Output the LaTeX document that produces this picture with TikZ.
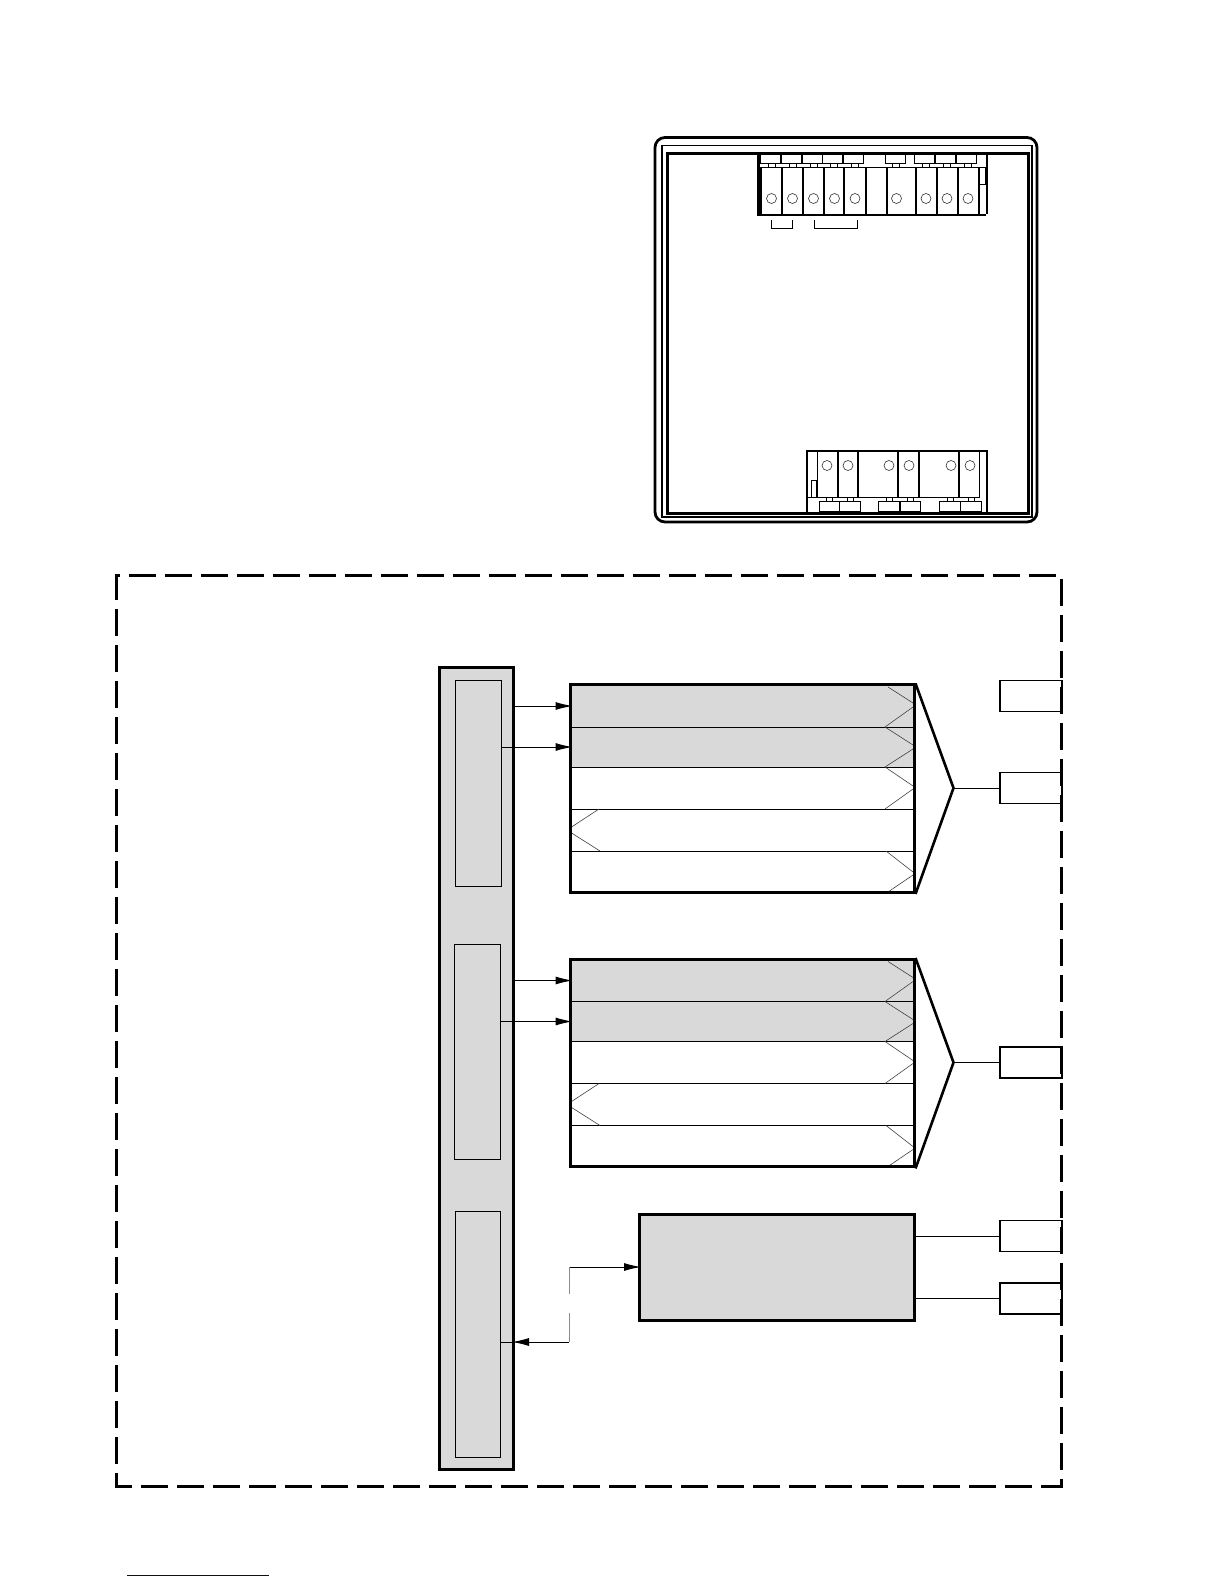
\documentclass[tikz,border=0pt]{standalone}
\usepackage{tikz}
\usetikzlibrary{arrows.meta}
\definecolor{panelgray}{HTML}{D9D9D9}
\tikzset{
  busbar/.style={draw,line width=3pt,fill=panelgray,inner sep=0pt,minimum width=74pt,minimum height=802pt},
  slotbox/.style={draw,line width=1pt,fill=panelgray,inner sep=0pt,minimum width=46pt},
  rowbox/.style={draw,line width=1pt,inner sep=0pt,minimum width=344pt},
  stackbox/.style={draw,line width=3pt,inner sep=0pt,minimum width=344pt,minimum height=207.5pt},
  portbox/.style={draw,line width=1.1pt,inner sep=0pt,minimum width=62pt,minimum height=31pt},
  sigline/.style={line width=1pt,shorten >=-3pt,-{Latex[length=17pt,width=8pt]}},
  chev/.style={line width=.6pt,black!75},
  termbox/.style={draw,line width=1pt,inner sep=0pt,minimum width=20pt,minimum height=9.5pt},
  lowterm/.style={draw,line width=1pt,inner sep=0pt,minimum width=20.5pt,minimum height=10pt}
}
\begin{document}
\begin{tikzpicture}[x=1pt,y=-1pt]
\useasboundingbox (0,0) rectangle (1224,1584);
% panel outline
\draw[line width=2.8pt,rounded corners=10pt] (655,137.5) rectangle (1037,522);
\draw[line width=1.8pt] (662,145.5) rectangle (1032,517);
\draw[line width=3pt] (667,153) rectangle (1028,513);
% upper block
\fill[white] (758,154.6) rectangle (987,215);
\draw[line width=2.4pt] (758.5,153) -- (758.5,215) -- (986,215);
\draw[line width=2.4pt] (987,153) -- (987,214);
\foreach \x in {761,782,803,824,844,866,887,916,937,958,979}
  \draw[line width=1.1pt] (\x,167) -- (\x,215);
\draw[line width=.9pt] (761,167) -- (979,167);
\foreach \x in {772,793,814,834,855,896,926,947,968}
  \draw[line width=.8pt] (\x-3.5,163) -- (\x-3.5,167) (\x+3.5,163) -- (\x+3.5,167);
\foreach \x/\n in {770.5/a,791/b,812/c,832.5/d,853.5/e,895/f,924.5/g,945.5/h,966.5/i}
  \node[termbox] (top\n) at (\x,158.5) {};
\foreach \x in {771.5,792.5,813.5,834.5,855,896.5,926,947,968}
  \draw[line width=.6pt,black!80] (\x,198.5) circle (5pt);
\draw[line width=.8pt] (979.5,167) rectangle (985,184.5);
\draw[line width=.9pt] (771.5,219.5) -- (771.5,228) -- (792.5,228) -- (792.5,219.5);
\draw[line width=.9pt] (814.5,219.5) -- (814.5,228) -- (857.5,228) -- (857.5,219.5);
% lower block
\fill[white] (806.5,451) rectangle (987.5,511.4);
\draw[line width=2.4pt] (807,512) -- (807,451) -- (987,451) -- (987,512);
\foreach \x in {817.5,838,858,898,919,959,979.5}
  \draw[line width=1.3pt] (\x,451) -- (\x,497.5);
\draw[line width=.8pt] (807,497.5) -- (979.5,497.5);
\draw[line width=.8pt] (811.5,480.5) rectangle (816.5,497.5);
\foreach \x in {827,848,889,909,951,970}
  \draw[line width=.6pt,black!80] (\x,465.5) circle (5pt);
\foreach \x in {829.3,850,889.3,910,950,971}
  \draw[line width=.8pt] (\x-3,497.5) -- (\x-3,501.5) (\x+3,497.5) -- (\x+3,501.5);
\foreach \x/\n in {829.5/a,850/b,889/c,910.5/d,950/e,971/f}
  \node[lowterm] (low\n) at (\x,506.5) {};
% dashed frame
\draw[line width=3pt,dash pattern=on 27pt off 9pt] (130,1486) -- (116.5,1486) -- (116.5,575.5) -- (1061,575.5) -- (1061,1486) -- (130,1486);
% bus bar and its slots
\node[busbar] (bus) at (476.5,1068) {};
\node[slotbox,minimum height=206pt] (slota) at (478,783) {};
\node[slotbox,minimum height=215pt] (slotb) at (477.5,1052) {};
\node[slotbox,minimum width=45pt,minimum height=246pt] (slotc) at (478,1334) {};
% two stacks of rows
\foreach \s/\dy in {a/0,b/274.5}{
  \node[rowbox,fill=panelgray,minimum height=42pt] (row\s1) at (742,706+\dy) {};
  \node[rowbox,fill=panelgray,minimum height=40pt] (row\s2) at (742,747+\dy) {};
  \node[rowbox,minimum height=42pt] (row\s3) at (742,788+\dy) {};
  \node[rowbox,minimum height=42pt] (row\s4) at (742,830+\dy) {};
  \node[rowbox,minimum height=41pt] (row\s5) at (742,871.5+\dy) {};
  \draw[chev] (888,687+\dy) -- (913,703+\dy) (913,707+\dy) -- (885,727+\dy) -- (913,745+\dy)
    (913,749+\dy) -- (885,767+\dy) -- (913,786+\dy) (913,789+\dy) -- (885,809+\dy)
    (886,851+\dy) -- (913,872+\dy) (913,875+\dy) -- (888,892+\dy)
    (599,809+\dy) -- (570,828+\dy) (570,832+\dy) -- (600,851+\dy);
  \node[stackbox] (stack\s) at (742,788.7+\dy) {};
  \coordinate (tip\s) at (953.5,788+\dy);
  \draw[line width=2.6pt] (stack\s.north east) -- (tip\s) -- (stack\s.south east);
  \draw[sigline] (bus.east |- row\s1.west) -- (row\s1.west);
  \draw[sigline] (slot\s.east |- row\s2.west) -- (row\s2.west);
}
% ports on the right
\node[portbox] (porta) at (1031,696) {};
\node[portbox] (portb) at (1031,788) {};
\node[portbox] (portc) at (1031,1062.5) {};
\node[portbox] (portd) at (1031,1236) {};
\node[portbox] (porte) at (1031,1298.5) {};
\draw[line width=1pt] (tipa) -- (portb.west);
\draw[line width=1pt] (tipb) -- (portc.west);
% lower box
\node[draw,line width=3pt,fill=panelgray,inner sep=0pt,minimum width=275pt,minimum height=106pt] (ctrl) at (777,1267) {};
\draw[line width=1pt] (ctrl.east |- portd.west) -- (portd.west);
\draw[line width=1pt] (ctrl.east |- porte.west) -- (porte.west);
\coordinate (elbowa) at (569,1267);
\coordinate (elbowb) at (569,1342);
\draw[sigline] (elbowa) -- (ctrl.west);
\draw[line width=1pt] (slotc.east |- elbowb) -- (bus.east |- elbowb);
\draw[sigline] (elbowb) -- (bus.east |- elbowb);
\draw[line width=.7pt,black!45] (elbowa) -- (569,1294) (569,1313) -- (elbowb);
% link rule
\draw[line width=.9pt,blue!55!black] (127,1575) -- (269,1575);
\end{tikzpicture}
\end{document}
